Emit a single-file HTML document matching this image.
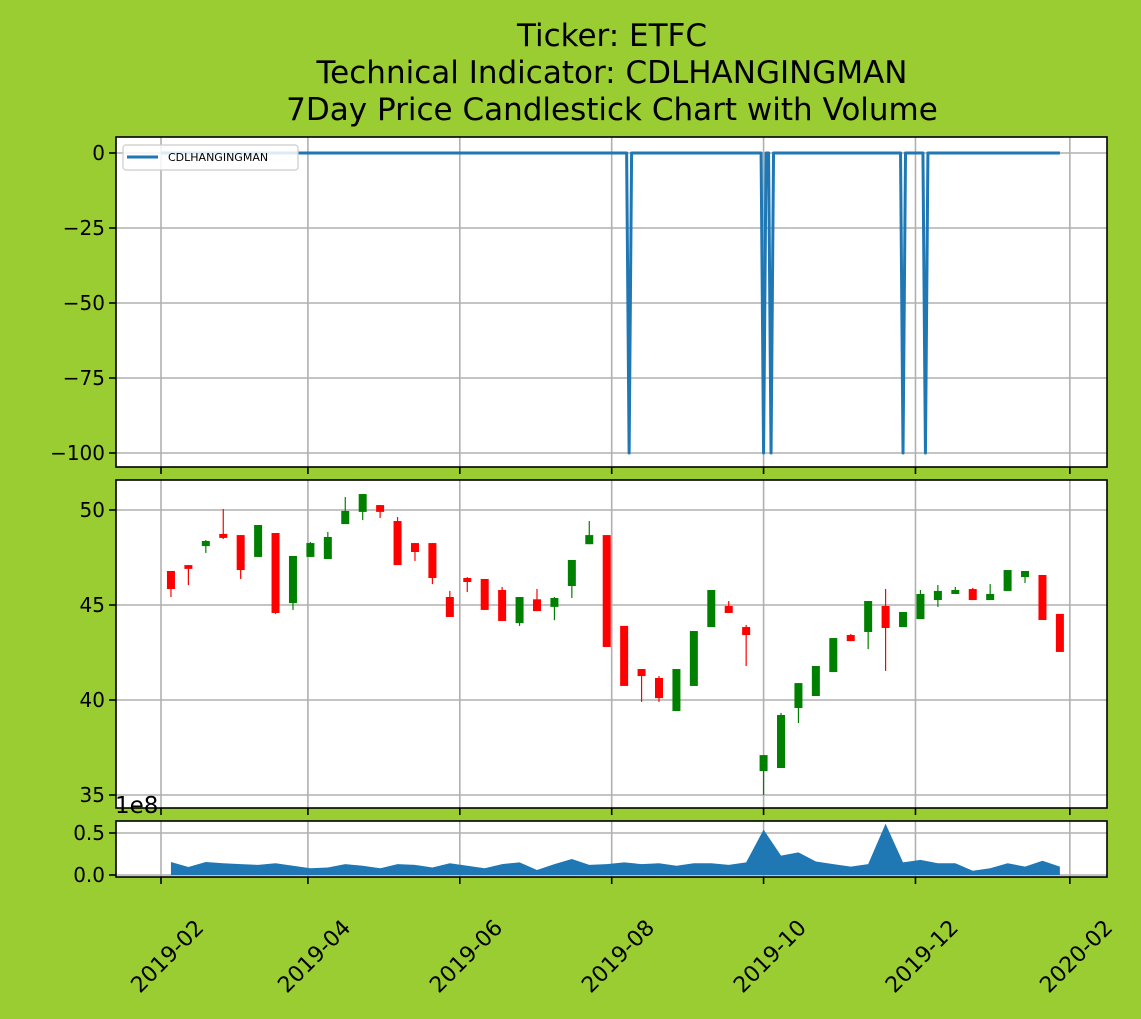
<!DOCTYPE html>
<html><head><meta charset="utf-8"><style>
html,body{margin:0;padding:0;background:#9acd32;}
svg{display:block;font-family:"DejaVu Sans","Liberation Sans",sans-serif;}
</style></head><body>
<svg id="chart" width="1141" height="1019" xmlns="http://www.w3.org/2000/svg">
<rect width="1141" height="1019" fill="#9acd32"/>
<g font-size="31" text-anchor="middle" fill="#000">
<text x="612" y="46">Ticker: ETFC</text>
<text x="612" y="83">Technical Indicator: CDLHANGINGMAN</text>
<text x="612" y="120">7Day Price Candlestick Chart with Volume</text>
</g>
<g id="g"></g>
</svg>
<script>
// ---- data ----
const candleDays = [4,11,18,25,32,39,46,53,60,67,74,81,88,95,102,109,116,123,130,137,144,151,158,165,172,179,186,193,200,207,214,221,228,235,242,249,256,263,270,277,284,291,298,305,312,319,326,333,340,347,354,361];
const opens  = [46.79,47.1,48.1,48.74,48.68,47.53,48.79,45.1,47.53,47.42,49.26,49.9,50.26,49.42,48.26,48.26,45.42,46.42,46.37,45.79,44.05,45.3,44.9,46.0,48.2,48.68,43.9,41.63,41.16,39.42,40.74,43.84,44.95,43.84,36.26,36.42,39.58,40.21,41.47,43.42,43.58,44.95,43.84,44.26,45.26,45.58,45.84,45.26,45.74,46.47,46.58,44.53];
const closes = [45.84,46.9,48.37,48.53,46.84,49.21,44.58,47.58,48.26,48.58,49.95,50.84,49.9,47.1,47.79,46.42,44.37,46.21,44.74,44.16,45.42,44.68,45.37,47.37,48.68,42.79,40.74,41.26,40.1,41.63,43.63,45.79,44.58,43.42,37.1,39.21,40.89,41.79,43.26,43.1,45.21,43.79,44.63,45.58,45.74,45.79,45.26,45.58,46.84,46.79,44.21,42.53];
const highs  = [46.79,47.1,48.42,50.05,48.68,49.21,48.79,47.58,48.32,48.84,50.68,50.84,50.26,49.63,48.26,48.26,45.74,46.47,46.37,45.95,45.42,45.84,45.42,47.37,49.42,48.68,43.9,41.63,41.26,41.63,43.63,45.79,45.21,43.95,37.1,39.32,40.89,41.79,43.26,43.47,45.21,45.84,44.63,45.79,46.05,45.95,45.9,46.1,46.84,46.79,46.58,44.53];
const lows   = [45.42,46.05,47.74,48.47,46.37,47.53,44.53,44.74,47.53,47.42,49.26,49.47,49.58,47.1,47.32,46.1,44.37,45.68,44.74,44.16,43.9,44.68,44.2,45.37,48.2,42.79,40.74,39.9,39.9,39.42,40.74,43.84,44.58,41.79,35.0,36.42,38.79,40.21,41.47,43.1,42.68,41.53,43.84,44.26,44.9,45.58,45.26,45.26,45.74,46.16,44.21,42.53];
const volumes = [0.155,0.095,0.155,0.14,0.13,0.12,0.14,0.11,0.08,0.09,0.13,0.11,0.08,0.13,0.12,0.09,0.14,0.11,0.08,0.13,0.15,0.06,0.13,0.19,0.12,0.13,0.15,0.13,0.14,0.11,0.14,0.14,0.12,0.15,0.54,0.23,0.27,0.16,0.13,0.10,0.13,0.61,0.15,0.18,0.14,0.14,0.05,0.08,0.14,0.10,0.17,0.10];
const signalDays = [188,242,245,298,307];
const signalValues = [-100,-100,-100,-100,-100];
const indicatorStart = 0, indicatorEnd = 361;
const xTickLabels = ["2019-02","2019-04","2019-06","2019-08","2019-10","2019-12","2020-02"];
const xTickDays = [0,59,120,181,242,303,365];
const topTicks = [0,-25,-50,-75,-100];
const priceTicks = [35,40,45,50];
const volTicks = [0.0,0.5];

// ---- scales ----
const X0=116,X1=1107;
const x = d => 161 + d*2.490;
const yTop = v => 153 - v*3.0;
const yPrice = v => 510 - (v-50)*19.0;
const yVol = v => 875 - v*84;
const NS="http://www.w3.org/2000/svg";
const root=document.getElementById('g');
function mk(tag,attrs,parent){const e=document.createElementNS(NS,tag);for(const k in attrs)e.setAttribute(k,attrs[k]);(parent||root).appendChild(e);return e;}

const panels=[{y0:137,y1:467,name:'indicator-panel'},{y0:480,y1:808,name:'price-panel'},{y0:821,y1:877,name:'volume-panel'}];
const pg=[];
panels.forEach(p=>{
  const g=mk('g',{});
  
  
  mk('rect',{x:X0,y:p.y0,width:X1-X0,height:p.y1-p.y0,fill:'#fff'},g);
  xTickDays.forEach(d=>{
    const l=mk('line',{x1:x(d),x2:x(d),y1:p.y0,y2:p.y1,stroke:'#b0b0b0','stroke-width':1.6},g);
    
    
    mk('line',{x1:x(d),x2:x(d),y1:p.y1,y2:p.y1+7,stroke:'#000','stroke-width':1.6},g);
  });
  pg.push(g);
});
function yAxis(g,ticks,fy,fmt,p){
  ticks.forEach(t=>{
    const yy=fy(t);
    const l=mk('line',{x1:X0,x2:X1,y1:yy,y2:yy,stroke:'#b0b0b0','stroke-width':1.6},g);
    
    
    mk('line',{x1:X0-7,x2:X0,y1:yy,y2:yy,stroke:'#000','stroke-width':1.6},g);
    const tx=mk('text',{x:X0-11,y:yy+7,'font-size':20,'text-anchor':'end',fill:'#000'},g);
    tx.textContent=fmt(t);
    
    
  });
}
yAxis(pg[0],topTicks,yTop,t=>String(t).replace('-','\u2212'),panels[0]);
yAxis(pg[1],priceTicks,yPrice,t=>String(t),panels[1]);
yAxis(pg[2],volTicks,yVol,t=>t.toFixed(1),panels[2]);

// indicator line
let pts=[[indicatorStart,0]];
signalDays.forEach((d,i)=>{pts.push([d-1,0],[d,signalValues[i]],[d+1,0]);});
pts.push([indicatorEnd,0]);
const ind=mk('polyline',{points:pts.map(p=>x(p[0])+','+yTop(p[1])).join(' '),fill:'none',stroke:'#1f77b4','stroke-width':3,'stroke-linejoin':'round'},pg[0]);



// legend
const lg=mk('g',{},pg[0]);


mk('rect',{x:123,y:145,width:175,height:25,rx:3,fill:'#fff','fill-opacity':0.85,stroke:'#ccc','stroke-width':1.2},lg);
mk('line',{x1:127,x2:158,y1:157,y2:157,stroke:'#1f77b4','stroke-width':3},lg);
const lt=mk('text',{x:168,y:161,'font-size':11,fill:'#000'},lg);
lt.textContent='CDLHANGINGMAN';



// candles
candleDays.forEach((d,i)=>{
  const up=closes[i]>=opens[i];
  const col=up?'#008000':'#ff0000';
  const cx=x(d);
  const cg=mk('g',{},pg[1]);
  
  
  mk('line',{x1:cx,x2:cx,y1:yPrice(highs[i]),y2:yPrice(lows[i]),stroke:col,'stroke-width':1.2},cg);
  const top=yPrice(Math.max(opens[i],closes[i])),bot=yPrice(Math.min(opens[i],closes[i]));
  mk('rect',{x:cx-4,y:top,width:8,height:Math.max(bot-top,1),fill:col},cg);
});

// volume
const vp=[[candleDays[0],0]].concat(candleDays.map((d,i)=>[d,volumes[i]])).concat([[candleDays[candleDays.length-1],0]]);
const va=mk('polygon',{points:vp.map(p=>x(p[0])+','+yVol(p[1])).join(' '),fill:'#1f77b4'},pg[2]);


const e8=mk('text',{x:115,y:813,'font-size':23,fill:'#000'});
e8.textContent='1e8';



// frames
panels.forEach(p=>{
  mk('rect',{x:X0,y:p.y0,width:X1-X0,height:p.y1-p.y0,fill:'none',stroke:'#000','stroke-width':1.6});
});
// x labels
xTickLabels.forEach((lab,i)=>{
  const ex=x(xTickDays[i])+44, ey=929;
  const t=mk('text',{x:ex,y:ey,'font-size':22,'text-anchor':'end',fill:'#000',transform:`rotate(-45 ${ex} ${ey})`});
  t.textContent=lab;
  
  
});
</script>
</body></html>
